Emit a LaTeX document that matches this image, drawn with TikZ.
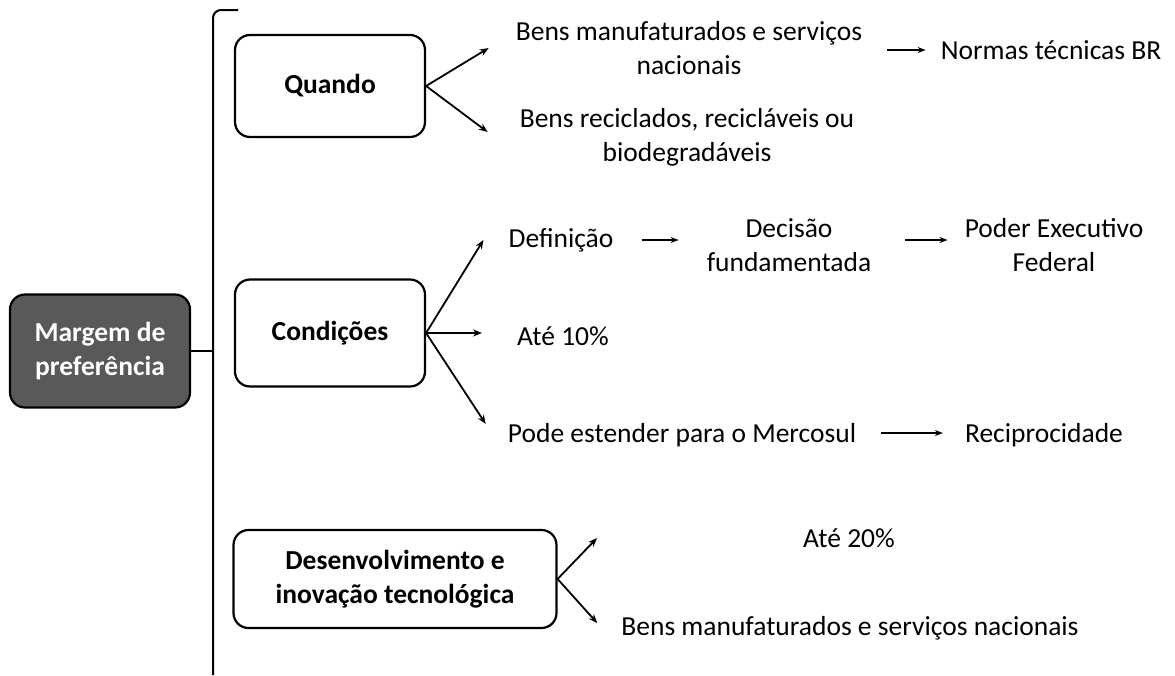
\documentclass[tikz,border=0pt]{standalone}
\usepackage{fontspec}
\setmainfont{Carlito}
\usetikzlibrary{arrows.meta,calc}
\begin{document}
\begin{tikzpicture}[x=1pt,y=-1pt,
  txt/.style={font=\fontsize{27.5}{34}\selectfont, align=center, inner sep=0pt},
  box/.style={draw, line width=2.2pt, rounded corners=15pt, font=\bfseries\fontsize{27.5}{34}\selectfont, align=center, inner sep=0pt},
  arr/.style={line width=1.8pt, -{Stealth[length=9pt,width=7pt]}},
  sarr/.style={line width=1.8pt, -{Stealth[length=8pt,width=6pt]}},
  bracket/.style={line width=2pt}]
\useasboundingbox (0,0) rectangle (1175,675);
\fill[white] (0,0) rectangle (1175,675);

% boxes
\node[box, fill=black!65, text=white, minimum width=180pt, minimum height=113pt] (m) at (100,351) {Margem de\\preferência};
\node[box, minimum width=190pt, minimum height=102pt] (q) at (330,86) {Quando};
\node[box, minimum width=190pt, minimum height=107pt] (c) at (330,333) {Condições};
\node[box, minimum width=323pt, minimum height=98pt] (d) at (395,579) {Desenvolvimento e\\inovação tecnológica};

% bracket
\coordinate (bt) at (238,10);
\coordinate (bb) at (213,675);
\draw[bracket, rounded corners=8pt] (bb) -- (213,10) -- (bt);
\draw[bracket] (m.east) -- (m.east -| bb);

% texts
\node[txt] (b1) at (689,48) {Bens manufaturados e serviços\\nacionais};
\node[txt] (b2) at (687,137) {Bens reciclados, recicláveis ou\\biodegradáveis};
\node[txt] (nt) at (1051,50) {Normas técnicas BR};
\node[txt] (def) at (561,240) {Definição};
\node[txt] (dec) at (789,245) {Decisão\\fundamentada};
\node[txt] (pod) at (1054,245) {Poder Executivo\\Federal};
\node[txt] (a10) at (563,336) {Até 10\%};
\node[txt] (mer) at (682,435) {Pode estender para o Mercosul};
\node[txt] (rec) at (1044,435) {Reciprocidade};
\node[txt] (a20) at (849,538) {Até 20\%};
\node[txt] (bn) at (850,628) {Bens manufaturados e serviços nacionais};

% Quando
\draw[arr] (q.east) -- ($(b1.west)+(-27,0)$);
\draw[arr] (q.east) -- ($(b2.west)+(-32,-5)$);
\draw[sarr] ($(b1.east)+(25,2)$) -- ($(nt.west)+(-15,0)$);

% Condicoes
\draw[arr] (c.east) -- ($(def.west)+(-25,0)$);
\draw[arr] (c.east) -- ($(a10.west)+(-35,-3)$);
\draw[arr] (c.east) -- ($(mer.west)+(-22,-11)$);
\draw[sarr] ($(def.east)+(28,0)$) -- ($(dec.west)+(-28,-5)$);
\draw[sarr] ($(dec.east)+(34,-5)$) -- ($(pod.west)+(-17,-5)$);
\draw[sarr] ($(mer.east)+(25,-2)$) -- ($(rec.west)+(-22,-2)$);

% Desenvolvimento
\draw[arr] (d.east) -- ($(a20.west)+(-206,0)$);
\draw[arr] (d.east) -- ($(bn.west)+(-24,-5)$);
\end{tikzpicture}
\end{document}
